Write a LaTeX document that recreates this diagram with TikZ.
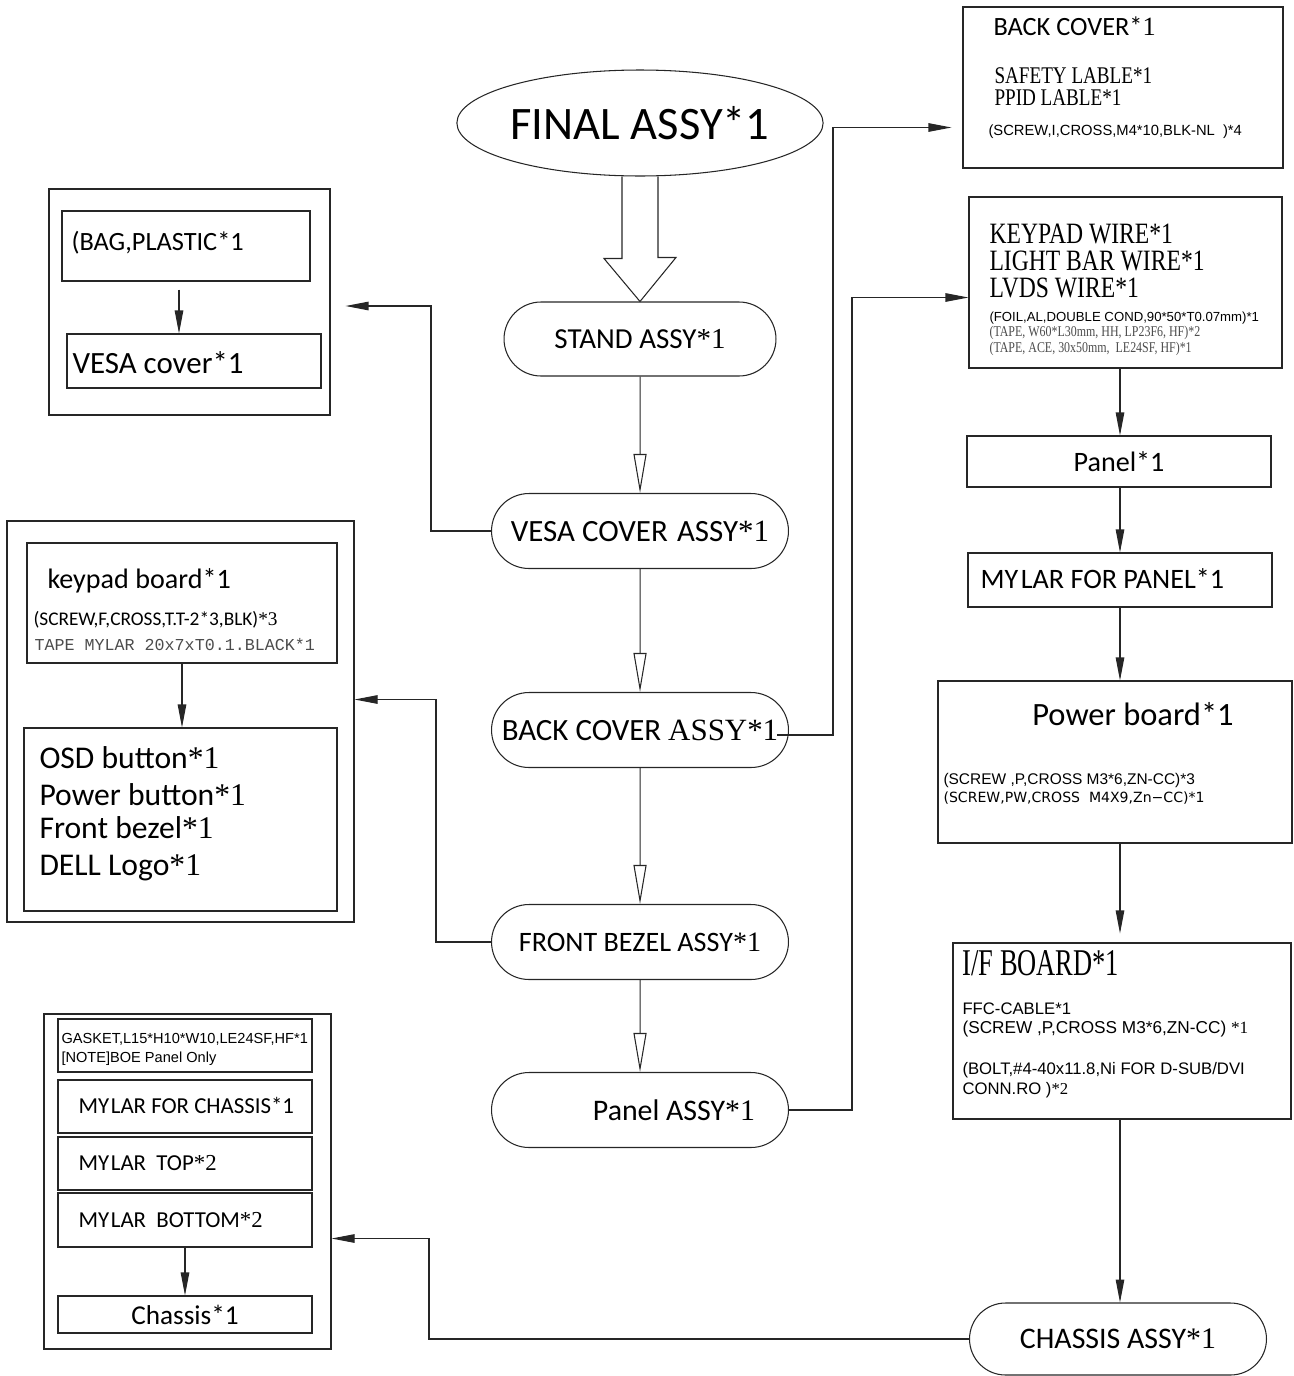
\documentclass[tikz,border=0pt]{standalone}
\usepackage{fontspec}
\setmainfont{Liberation Serif}
\newfontfamily\cad{Carlito}
\newfontfamily\arial{Liberation Sans}
\newfontfamily\dvs{DejaVu Sans}
\newfontfamily\song{Liberation Mono}
\newfontfamily\tms[FakeStretch=0.8]{Liberation Serif}
\newfontfamily\tmsn[FakeStretch=0.7]{Liberation Serif}
\usetikzlibrary{arrows.meta, calc, fit, shapes.misc, shapes.geometric}
\newcommand{\fsz}[1]{\fontsize{#1}{#1}\selectfont}
\newcommand{\srf}[1]{{\rmfamily#1}}

\tikzset{
	grp/.style={draw, inner sep=0pt},
	part/.style={draw, inner sep=0pt},
	assy/.style={draw, rounded rectangle, minimum width=5.94cm, minimum height=1.5cm, inner sep=0pt, font=\cad\fsz{17.6}},
	txt/.style={anchor=base west, inner sep=0pt},
	arr/.style={-{Triangle[length=0.46cm, width=0.17cm]}},
	oarr/.style={-{Triangle[open, length=0.78cm, width=0.26cm]}},
}

\begin{document}
\begin{tikzpicture}[x=0.02cm, y=-0.02cm, line width=0.6pt, draw=black!85]
		\useasboundingbox (0,0) rectangle (1294,1376);

		\node[draw, ellipse, minimum width=6.4cm, minimum height=2.12cm, inner sep=0pt, font=\cad\fsz{26.5}] (final) at (640,123) {FINAL ASSY*1};
		\node[assy, minimum width=5.44cm, minimum height=1.48cm, font=\cad\fsz{16.5}] (stand) at (640,339) {STAND ASSY\srf{*1}};
		\node[assy] (vesa) at (640,531) {VESA COVER\hspace{0.3em}ASSY\srf{*1}};
		\node[assy] (back) at (640,730) {BACK COVER \srf{ASSY*1}};
		\node[assy, font=\cad\fsz{16}] (front) at (640,942) {FRONT BEZEL ASSY\srf{*1}};
		\node[assy, font=\cad\fsz{17}] (panel) at (640,1110) {\hspace*{1.36cm}Panel ASSY\srf{*1}};

		\draw ($(final.south)+(-18,0)$) -- ++(0,82) -- ++(-18,0) -- (stand.north) -- ++(36,-44) -- ++(-18,0) -- ($(final.south)+(18,0)$);
		\draw[oarr] (stand) -- (vesa);
		\draw[oarr] (vesa) -- (back);
		\draw[oarr] (back) -- (front);
		\draw[oarr] (front) -- (panel);

	% left side
		\node[grp, fit={(49,189) (330,415)}] (bagbox) {};
		\node[part, fit={(62,211) (310,281)}] (bag) {};
		\node[txt, font=\cad\fsz{15}] (bagt) at (71,250) {(BAG,PLASTIC*1};
		\node[part, fit={(67,334) (321,388)}] (vesacov) {};
		\node[txt, font=\cad\fsz{17.6}] (vesacovt) at (72,373) {VESA cover*1};
		\draw[arr] ($(bag.south)+(-7,8)$) -- ($(bag.south |- vesacov.north)+(-7,0)$);

		\node[grp, fit={(7,521) (354,922)}] (kbdgrp) {};
		\node[part, fit={(27,543) (337,663)}] (kbd) {};
		\node[txt, font=\cad\fsz{16}] (kbdt) at (47,588) {keypad board*1};
		\node[txt, font=\cad\fsz{11}] (kbds) at (33,625) {(SCREW,F,CROSS,T.T-2*3,BLK)\srf{*3}};
		\node[txt, font=\song\fsz{9.5}, text=black!70] (kbdm) at (34,650) {TAPE MYLAR 20x7xT0.1.BLACK*1};
		\node[part, fit={(24,728) (337,911)}] (osd) {};
		\node[txt, font=\cad\fsz{18}] (osdt) at (39,768) {OSD button\srf{*1}};
		\node[txt, font=\cad\fsz{18}] (pwrt) at (39,805) {Power button\srf{*1}};
		\node[txt, font=\cad\fsz{18}] (bzlt) at (39,838) {Front bezel\srf{*1}};
		\node[txt, font=\cad\fsz{18}] (logot) at (39,875) {DELL Logo\srf{*1}};
		\draw[arr] (kbd.south) -- (kbd.south |- osd.north);

		\node[grp, fit={(44,1014) (331,1349)}] (chasgrp) {};
		\node[part, fit={(58,1019) (312,1072)}] (gasket) {};
		\node[txt, font=\arial\fsz{8.3}] (gaskett) at (61,1043) {GASKET,L15*H10*W10,LE24SF,HF*1};
		\node[txt, font=\arial\fsz{8.3}] (notet) at (61,1062) {[NOTE]BOE Panel Only};
		\node[part, fit={(58,1080) (312,1133)}] (mylarch) {};
		\node[txt, font=\cad\fsz{13}] (mylarcht) at (78,1113) {MY\kern1pt LAR FOR CHASSIS*1};
		\node[part, fit={(58,1137) (312,1190)}] (mylartop) {};
		\node[txt, font=\cad\fsz{13}] (mylartopt) at (78,1170) {MY\kern1pt LAR\ \ TOP\srf{*2}};
		\node[part, fit={(58,1193) (312,1247)}] (mylarbot) {};
		\node[txt, font=\cad\fsz{13}] (mylarbott) at (78,1227) {MY\kern1pt LAR\ \ BOTTOM\srf{*2}};
		\node[part, fit={(58,1296) (312,1333)}] (chas) {};
		\node[font=\cad\fsz{15.5}, inner sep=0pt] (chast) at (chas) {Chassis*1};
		\draw[arr] (mylarbot.south) -- (mylarbot.south |- chas.north);

	% right side
		\node[part, fit={(963,7) (1283,168)}] (backbox) {};
		\node[txt, font=\cad\fsz{15}] (backt) at (993,35) {BACK COVER*\srf{1}};
		\node[txt, font=\tms\fsz{13.6}] (safetyt) at (994,83) {SAFETY LABLE*1};
		\node[txt, font=\tms\fsz{13.6}] (ppidt) at (994,105) {PPID LABLE*1};
		\node[txt, font=\arial\fsz{8.4}] (backs) at (988,135) {(SCREW,I,CROSS,M4*10,BLK-NL\ \ )*4};

		\node[part, fit={(969,197) (1282,368)}] (wirebox) {};
		\node[txt, font=\tms\fsz{16.8}] (wire1) at (989,243) {KEYPAD WIRE*1};
		\node[txt, font=\tms\fsz{16.8}] (wire2) at (989,270) {LIGHT BAR WIRE*1};
		\node[txt, font=\tms\fsz{16.8}] (wire3) at (989,297) {LVDS WIRE*1};
		\node[txt, font=\arial\fsz{7.5}] (foilt) at (989,321) {(FOIL,AL,DOUBLE COND,90*50*T0.07mm)*1};
		\node[txt, font=\tms\fsz{8.5}, text=black!70] (tape1) at (989,336) {(TAPE, W60*L30mm, HH, LP23F6, HF)*2};
		\node[txt, font=\tms\fsz{8.5}, text=black!70] (tape2) at (989,352) {(TAPE, ACE, 30x50mm,\ \ LE24SF, HF)*1};

		\node[part, fit={(967,436) (1271,487)}] (panelbox) {};
		\node[font=\cad\fsz{16}, inner sep=0pt] (panelt) at (panelbox) {Panel*1};
		\node[part, fit={(968,553) (1272,607)}] (mylarpanel) {};
		\node[txt, font=\cad\fsz{16}] (mylarpanelt) at (980,588) {MY\kern1.5pt LAR FOR PANEL*1};

		\node[part, fit={(938,681) (1292,843)}] (powerbox) {};
		\node[anchor=base, inner sep=0pt, font=\cad\fsz{18.5}] (powert) at (1133,725) {Power board*1};
		\node[txt, font=\arial\fsz{8.8}] (power1) at (943,784) {(SCREW ,P,CROSS M3*6,ZN-CC)*3};
		\node[txt, font=\dvs\fsz{8}] (power2) at (943,802) {(SCREW,PW,CROSS\ \ M4X9,Zn−CC)*1};

		\node[part, fit={(953,943) (1291,1119)}] (ifbox) {};
		\node[txt, font=\tmsn\fsz{21.5}] (ift) at (962,975) {I/F BOARD*1};
		\node[txt, font=\arial\fsz{9.5}] (ffct) at (962,1014) {FFC-CABLE*1};
		\node[txt, font=\arial\fsz{9.8}] (if1) at (962,1033) {(SCREW ,P,CROSS M3*6,ZN-CC) \srf{*1}};
		\node[txt, font=\arial\fsz{9.5}] (if2) at (962,1074) {(BOLT,\#4-40x11.8,Ni FOR D-SUB/DVI};
		\node[txt, font=\arial\fsz{9.5}] (if3) at (962,1094) {CONN.RO )\srf{*2}};

		\node[assy, minimum height=1.44cm, font=\cad\fsz{17}] (chasassy) at (1118,1339) {CHASSIS ASSY\srf{*1}};

		\draw[arr] (mylarpanel.south |- wirebox.south) -- (mylarpanel.south |- panelbox.north);
		\draw[arr] (mylarpanel.south |- panelbox.south) -- (mylarpanel.north);
		\draw[arr] (mylarpanel.south) -- (mylarpanel.south |- powerbox.north);
		\draw[arr, shorten >=0.18cm] (mylarpanel.south |- powerbox.south) -- (mylarpanel.south |- ifbox.north);
		\draw[arr] (mylarpanel.south |- ifbox.south) -- (mylarpanel.south |- chasassy.north);

	% cross links
		\draw[arr, shorten >=0.3cm] (vesa.west) -- ++(-60,0) |- ($(bagbox.east)+(0,4)$);
		\draw[arr, shorten >=0.22cm] ($(back.east)+(-12,5)$) -- ++(56,0) |- ($(backbox.west)+(0,40)$);
		\draw[arr] (front.west) -- ++(-55,0) |- ($(kbdgrp.east)+(0,-22)$);
		\draw[arr] (panel.east) -- ++(63,0) |- ($(wirebox.west)+(0,15)$);
		\draw[arr] (chasassy.west) -- ++(-540,0) |- ($(chasgrp.east)+(0,57)$);
\end{tikzpicture}
\end{document}
